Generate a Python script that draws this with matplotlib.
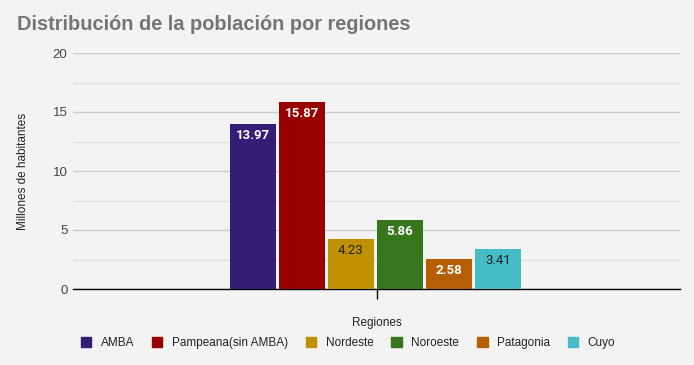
import numpy as np
import matplotlib
matplotlib.use("Agg")
import matplotlib.pyplot as plt
from matplotlib.patches import Patch

# data
regions = ["AMBA", "Pampeana(sin AMBA)", "Nordeste", "Noroeste", "Patagonia", "Cuyo"]
values = [13.97, 15.87, 4.23, 5.86, 2.58, 3.41]
colors = ["#351c75", "#990000", "#bf9000", "#38761d", "#b45f06", "#46bdc6"]
label_colors = ["white", "white", "#222222", "white", "white", "#222222"]
yticks = [0, 5, 10, 15, 20]

bg = "#f3f3f3"
plt.rcParams["font.family"] = ["Liberation Sans", "DejaVu Sans"]

fig = plt.figure(figsize=(6.94, 3.65), dpi=100, facecolor=bg)
ax = fig.add_axes([73 / 694, 76 / 365, 607 / 694, 236 / 365], facecolor=bg)

slot = 49 / 607
n = len(values)
xs = (np.arange(n) - (n - 1) / 2) * slot - 1 / 607
bars = ax.bar(xs, values, width=slot * 46 / 49, color=colors, zorder=3)

for b, v, lc in zip(bars, values, label_colors):
    ax.text(b.get_x() + b.get_width() / 2, v - 0.45, f"{v:.2f}", ha="center", va="top",
            color=lc, fontsize=9.5, fontweight="bold" if lc == "white" else "normal",
            family=["Roboto", "DejaVu Sans"], zorder=4)

ax.set_xlim(-0.5, 0.5)
ax.set_ylim(0, 20)
ax.set_yticks(yticks)
ax.set_yticks(np.arange(2.5, 20, 5), minor=True)
ax.grid(axis="y", which="major", color="#cccccc", lw=1, zorder=0)
ax.grid(axis="y", which="minor", color="#e2e2e2", lw=1, zorder=0)
ax.tick_params(axis="y", which="both", length=0, labelsize=9.5, labelcolor="#444444", pad=4)
ax.set_xticks([0])
ax.set_xticklabels([""])
ax.tick_params(axis="x", length=7, width=1, color="black", direction="out")
for s in ["top", "right", "left"]:
    ax.spines[s].set_visible(False)
ax.spines["bottom"].set_color("black")
ax.spines["bottom"].set_linewidth(1)

ax.set_ylabel("Millones de habitantes", fontsize=8.5, color="#222222", labelpad=17)
ax.set_xlabel("Regiones", fontsize=8.5, color="#222222", labelpad=10)

fig.text(17 / 694, 1 - 25 / 365, "Distribución de la población por regiones", fontsize=14.4,
         fontweight="bold", color="#757575", va="center", ha="left")

handles = [Patch(facecolor=c, edgecolor=c) for c in colors]
fig.legend(handles, regions, loc="center", bbox_to_anchor=(348 / 694, 1 - 343 / 365), ncol=n,
           frameon=False, fontsize=8.5, handlelength=0.9, handleheight=0.9, handletextpad=0.8,
           columnspacing=1.5, labelcolor="#222222")

fig.savefig("out.png", dpi=100, facecolor=bg)
